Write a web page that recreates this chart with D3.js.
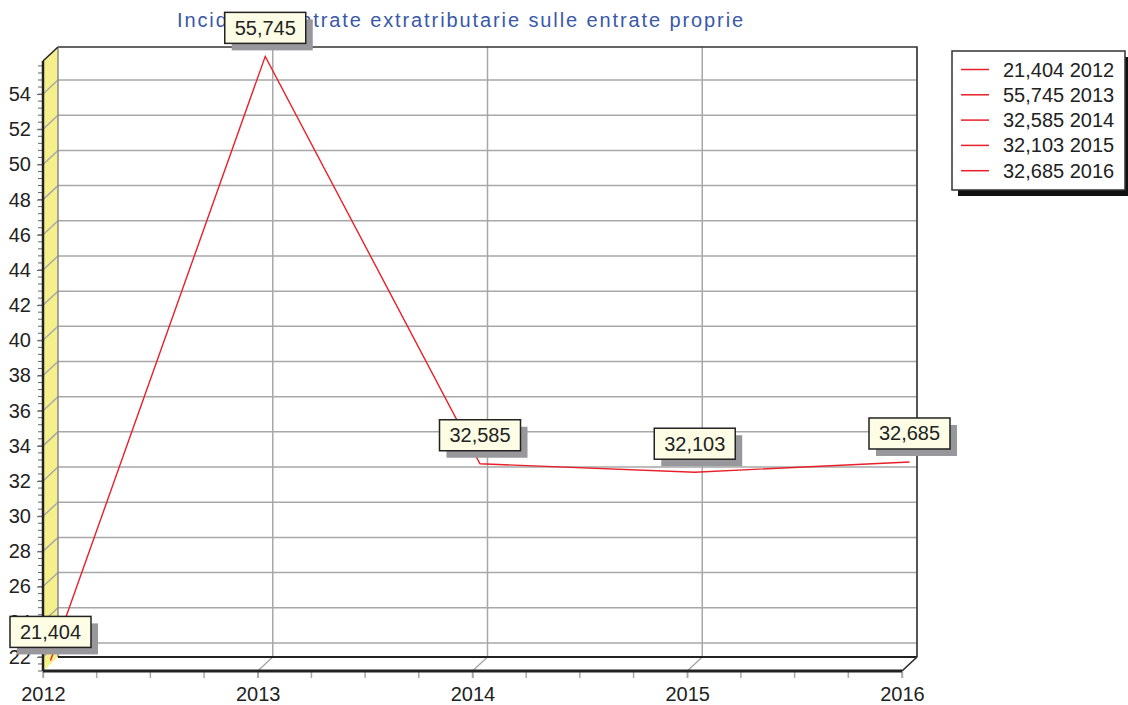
<!DOCTYPE html>
<html>
<head>
<meta charset="utf-8">
<script src="https://cdn.jsdelivr.net/npm/d3@7"></script>
<style>
  body { margin: 0; background: #fff; }
  text { font-family: "Liberation Sans", Arial, sans-serif; }
</style>
</head>
<body>
<div class="mydiv"></div>
<script>
var width = 1128;
var height = 705;

// data
var years = [2012, 2013, 2014, 2015, 2016];
var values = [21.404, 55.745, 32.585, 32.103, 32.685];
var valueLabels = ["21,404", "55,745", "32,585", "32,103", "32,685"];
var yTicks = [22, 24, 26, 28, 30, 32, 34, 36, 38, 40, 42, 44, 46, 48, 50, 52, 54];
var title = "Incidenza entrate extratributarie sulle entrate proprie";

// back plane + depth offset
var pLeft = 58, pRight = 917, pTop = 47, pBottom = 657;
var dx = -15, dy = 14;

var x = d3.scaleLinear().domain([2012, 2016]).range([pLeft, pRight]);
var y = d3.scaleLinear().domain([21.2, 55.88]).range([pBottom, pTop]);

var svg = d3.select(".mydiv").append("svg")
    .attr("width", width)
    .attr("height", height);

// title (drawn first, labels overlap it)
svg.append("text")
    .attr("x", 461)
    .attr("y", 27)
    .attr("text-anchor", "middle")
    .attr("font-size", 20)
    .attr("letter-spacing", 1.9)
    .attr("fill", "#3a58a8")
    .text(title);

// left wall
svg.append("path")
    .attr("d", "M" + pLeft + "," + pTop + "L" + (pLeft + dx) + "," + (pTop + dy) +
               "L" + (pLeft + dx) + "," + (pBottom + dy) + "L" + pLeft + "," + pBottom + "Z")
    .attr("fill", "#f6f08c");

// horizontal gridlines on back wall + across left wall
svg.append("g").selectAll("path")
    .data(yTicks)
    .join("path")
    .attr("d", function(d) {
        return "M" + (pLeft + dx) + "," + (y(d) + dy) + "L" + pLeft + "," + y(d) + "L" + pRight + "," + y(d);
    })
    .attr("fill", "none")
    .attr("stroke", "#a8a8a8")
    .attr("stroke-width", 1.5);

// vertical gridlines on back wall + across floor
svg.append("g").selectAll("path")
    .data(years.slice(1))
    .join("path")
    .attr("d", function(d) {
        return "M" + x(d) + "," + pTop + "L" + x(d) + "," + pBottom + "L" + (x(d) + dx) + "," + (pBottom + dy);
    })
    .attr("fill", "none")
    .attr("stroke", "#a8a8a8")
    .attr("stroke-width", 1.5);

// back plane frame
svg.append("path")
    .attr("d", "M" + pLeft + "," + pTop + "L" + pRight + "," + pTop + "L" + pRight + "," + pBottom)
    .attr("fill", "none")
    .attr("stroke", "#333")
    .attr("stroke-width", 1.5);
svg.append("line")
    .attr("x1", pLeft).attr("x2", pLeft)
    .attr("y1", pTop).attr("y2", pBottom)
    .attr("stroke", "#888")
    .attr("stroke-width", 1.5);
svg.append("line")
    .attr("x1", pLeft).attr("x2", pRight)
    .attr("y1", pBottom).attr("y2", pBottom)
    .attr("stroke", "#222")
    .attr("stroke-width", 2);
svg.append("path")
    .attr("d", "M" + pRight + "," + pBottom + "L" + (pRight + dx) + "," + (pBottom + dy))
    .attr("stroke", "#333")
    .attr("stroke-width", 1.5);
svg.append("path")
    .attr("d", "M" + (pLeft + dx) + "," + (pTop + dy) + "L" + pLeft + "," + pTop)
    .attr("stroke", "#222")
    .attr("stroke-width", 1.5);

// front y axis
var yFront = d3.scaleLinear().domain(y.domain()).range([pBottom + dy, pTop + dy]);
var minorY = d3.range(Math.ceil(21.2 / 0.4) * 0.4, 55.88, 0.4);
var yAxis = svg.append("g")
    .attr("transform", "translate(" + (pLeft + dx) + ",0)");
yAxis.selectAll("line.minor")
    .data(minorY)
    .join("line")
    .attr("class", "minor")
    .attr("x1", -5).attr("x2", 0)
    .attr("y1", function(d) { return yFront(d); })
    .attr("y2", function(d) { return yFront(d); })
    .attr("stroke", "#666")
    .attr("stroke-width", 1);
yAxis.call(d3.axisLeft(yFront).tickValues(yTicks).tickSize(6).tickPadding(6))
    .call(function(g) { g.select(".domain").remove(); })
    .call(function(g) {
        g.selectAll(".tick line").attr("stroke", "#666");
        g.selectAll(".tick text")
            .attr("font-size", 20)
            .attr("font-family", "Liberation Sans, Arial, sans-serif")
            .attr("fill", "#222");
    });
svg.append("line")
    .attr("x1", pLeft + dx).attr("x2", pLeft + dx)
    .attr("y1", pTop + dy).attr("y2", pBottom + dy)
    .attr("stroke", "#222")
    .attr("stroke-width", 2.5);

// front x axis
var xFront = d3.scaleLinear().domain(x.domain()).range([pLeft + dx, pRight + dx]);
var minorX = d3.range(2012, 2016.01, 0.25);
var xAxis = svg.append("g")
    .attr("transform", "translate(0," + (pBottom + dy) + ")");
xAxis.selectAll("line.minor")
    .data(minorX)
    .join("line")
    .attr("class", "minor")
    .attr("x1", function(d) { return xFront(d); })
    .attr("x2", function(d) { return xFront(d); })
    .attr("y1", 0).attr("y2", 7)
    .attr("stroke", "#aaa")
    .attr("stroke-width", 1.5);
xAxis.call(d3.axisBottom(xFront).tickValues(years).tickFormat(d3.format("d")).tickSize(7).tickPadding(9))
    .call(function(g) { g.select(".domain").remove(); })
    .call(function(g) {
        g.selectAll(".tick line").attr("stroke", "#aaa").attr("stroke-width", 1.5);
        g.selectAll(".tick text")
            .attr("font-size", 20)
            .attr("font-family", "Liberation Sans, Arial, sans-serif")
            .attr("fill", "#222");
    });
svg.append("line")
    .attr("x1", pLeft + dx).attr("x2", pRight + dx)
    .attr("y1", pBottom + dy).attr("y2", pBottom + dy)
    .attr("stroke", "#222")
    .attr("stroke-width", 3);

// line at mid depth
var line = d3.line()
    .x(function(d, i) { return x(years[i]) + dx / 2; })
    .y(function(d) { return y(d) + dy / 2; });
svg.append("path")
    .datum(values)
    .attr("d", line)
    .attr("fill", "none")
    .attr("stroke", "#e8202a")
    .attr("stroke-width", 1.4);

// value labels
var boxW = 81, boxH = 31;
var labels = svg.append("g").selectAll("g")
    .data(values)
    .join("g")
    .attr("transform", function(d, i) {
        var px = x(years[i]) + dx / 2, py = y(d) + dy / 2;
        return "translate(" + (px - boxW / 2) + "," + (py - 13 - boxH) + ")";
    });
labels.append("rect")
    .attr("x", 7).attr("y", 7)
    .attr("width", boxW).attr("height", boxH)
    .attr("fill", "#98989c");
labels.append("rect")
    .attr("width", boxW).attr("height", boxH)
    .attr("fill", "#fdfde6")
    .attr("stroke", "#222")
    .attr("stroke-width", 1.5);
labels.append("text")
    .attr("x", boxW / 2)
    .attr("y", boxH / 2 + 7)
    .attr("text-anchor", "middle")
    .attr("font-size", 20)
    .attr("fill", "#222")
    .text(function(d, i) { return valueLabels[i]; });

// legend
var legend = svg.append("g").attr("transform", "translate(952,51)");
legend.append("rect")
    .attr("x", 6).attr("y", 6)
    .attr("width", 173).attr("height", 139)
    .attr("fill", "#111");
legend.append("rect")
    .attr("width", 173).attr("height", 139)
    .attr("fill", "#fff")
    .attr("stroke", "#333")
    .attr("stroke-width", 1.5);
var rows = legend.selectAll("g.row")
    .data(values)
    .join("g")
    .attr("class", "row")
    .attr("transform", function(d, i) { return "translate(0," + (18.5 + i * 25.3) + ")"; });
rows.append("line")
    .attr("x1", 9).attr("x2", 37)
    .attr("stroke", "#e8202a")
    .attr("stroke-width", 1.5);
rows.append("text")
    .attr("x", 51)
    .attr("y", 7)
    .attr("font-size", 20)
    .attr("fill", "#222")
    .text(function(d, i) { return valueLabels[i] + " " + years[i]; });
</script>
</body>
</html>
